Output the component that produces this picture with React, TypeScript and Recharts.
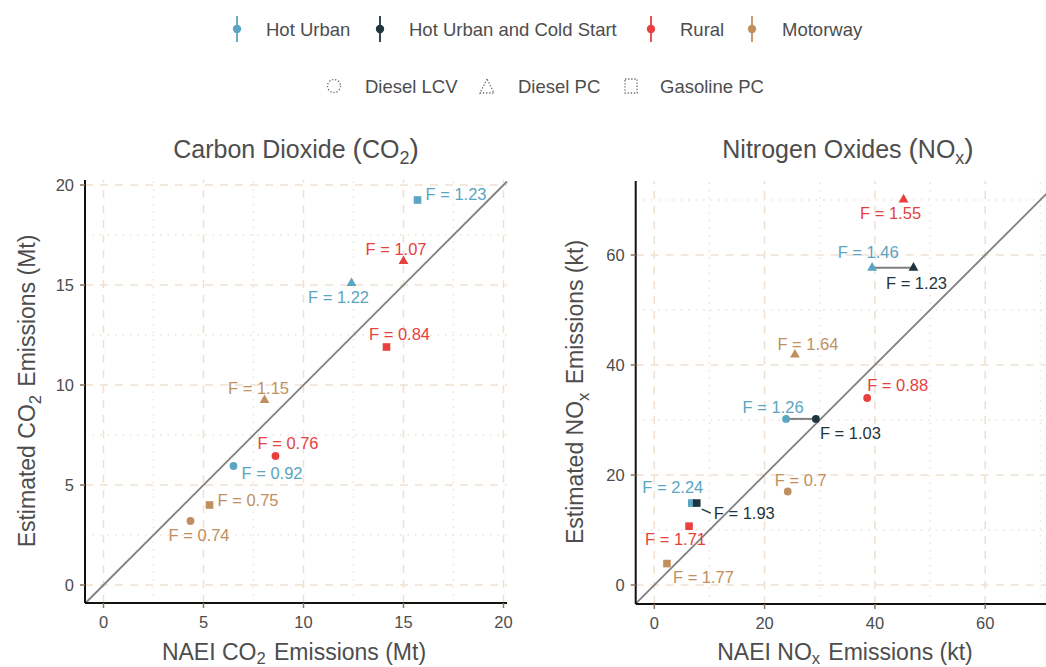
import React from 'react';
import { ScatterChart, Scatter, XAxis, YAxis, ReferenceLine } from 'recharts';

type Pt = { vehicle: string; naei: number; est: number; f: string };

const CONDITIONS = ['Hot Urban', 'Hot Urban and Cold Start', 'Rural', 'Motorway'];
const VEHICLES = ['Diesel LCV', 'Diesel PC', 'Gasoline PC'];

// ---- CO2 (Mt) ----
const CO2_HOT_URBAN: Pt[] = [
  { vehicle: 'Diesel LCV', naei: 6.5, est: 5.95, f: '0.92' },
  { vehicle: 'Diesel PC', naei: 12.4, est: 15.1, f: '1.22' },
  { vehicle: 'Gasoline PC', naei: 15.7, est: 19.25, f: '1.23' },
];
const CO2_RURAL: Pt[] = [
  { vehicle: 'Diesel LCV', naei: 8.6, est: 6.45, f: '0.76' },
  { vehicle: 'Diesel PC', naei: 15.0, est: 16.2, f: '1.07' },
  { vehicle: 'Gasoline PC', naei: 14.15, est: 11.9, f: '0.84' },
];
const CO2_MOTORWAY: Pt[] = [
  { vehicle: 'Diesel LCV', naei: 4.35, est: 3.2, f: '0.74' },
  { vehicle: 'Diesel PC', naei: 8.05, est: 9.25, f: '1.15' },
  { vehicle: 'Gasoline PC', naei: 5.3, est: 4.0, f: '0.75' },
];

// ---- NOx (kt) ----
const NOX_HOT_URBAN: Pt[] = [
  { vehicle: 'Diesel LCV', naei: 23.9, est: 30.2, f: '1.26' },
  { vehicle: 'Diesel PC', naei: 39.5, est: 57.7, f: '1.46' },
  { vehicle: 'Gasoline PC', naei: 6.8, est: 14.9, f: '2.24' },
];
const NOX_HOT_URBAN_COLD: Pt[] = [
  { vehicle: 'Diesel LCV', naei: 29.3, est: 30.2, f: '1.03' },
  { vehicle: 'Diesel PC', naei: 47.0, est: 57.7, f: '1.23' },
  { vehicle: 'Gasoline PC', naei: 7.7, est: 14.9, f: '1.93' },
];
const NOX_RURAL: Pt[] = [
  { vehicle: 'Diesel LCV', naei: 38.6, est: 34.0, f: '0.88' },
  { vehicle: 'Diesel PC', naei: 45.2, est: 70.1, f: '1.55' },
  { vehicle: 'Gasoline PC', naei: 6.3, est: 10.7, f: '1.71' },
];
const NOX_MOTORWAY: Pt[] = [
  { vehicle: 'Diesel LCV', naei: 24.2, est: 17.0, f: '0.7' },
  { vehicle: 'Diesel PC', naei: 25.5, est: 41.9, f: '1.64' },
  { vehicle: 'Gasoline PC', naei: 2.3, est: 3.9, f: '1.77' },
];

// ---- axes ----
const CO2_TICKS = [0, 5, 10, 15, 20];
const CO2_MINOR = [2.5, 7.5, 12.5, 17.5];
const NOX_TICKS = [0, 20, 40, 60];
const NOX_MINOR = [10, 30, 50, 70];

// ---- styling / layout ----
const COLORS: Record<string, string> = {
  'Hot Urban': '#5AA5C2',
  'Hot Urban and Cold Start': '#1E3540',
  Rural: '#E8403F',
  Motorway: '#C08F5E',
};
const TEXT = '#4D4D4D';
const GRID = '#EEE1D2';
const FONT = '"Liberation Sans", Arial, Helvetica, sans-serif';

type LabelPos = { dx: number; dy: number; anchor: 'start' | 'middle' | 'end'; leader?: boolean };

const CO2_LABELS: Record<string, LabelPos> = {
  'Hot Urban|Diesel LCV': { dx: 8, dy: 7, anchor: 'start' },
  'Hot Urban|Diesel PC': { dx: -13, dy: 14, anchor: 'middle' },
  'Hot Urban|Gasoline PC': { dx: 8, dy: -6, anchor: 'start' },
  'Rural|Diesel LCV': { dx: 12.5, dy: -13, anchor: 'middle' },
  'Rural|Diesel PC': { dx: -7.5, dy: -12, anchor: 'middle' },
  'Rural|Gasoline PC': { dx: 13, dy: -13, anchor: 'middle' },
  'Motorway|Diesel LCV': { dx: 8.5, dy: 14, anchor: 'middle' },
  'Motorway|Diesel PC': { dx: -6, dy: -12, anchor: 'middle' },
  'Motorway|Gasoline PC': { dx: 8, dy: -5, anchor: 'start' },
};

const NOX_LABELS: Record<string, LabelPos> = {
  'Hot Urban|Diesel LCV': { dx: -13, dy: -12, anchor: 'middle' },
  'Hot Urban|Diesel PC': { dx: -4, dy: -16, anchor: 'middle' },
  'Hot Urban|Gasoline PC': { dx: -19, dy: -16, anchor: 'middle' },
  'Hot Urban and Cold Start|Diesel LCV': { dx: 4, dy: 14, anchor: 'start' },
  'Hot Urban and Cold Start|Diesel PC': { dx: 3, dy: 15, anchor: 'middle' },
  'Hot Urban and Cold Start|Gasoline PC': { dx: 17, dy: 10, anchor: 'start', leader: true },
  'Rural|Diesel LCV': { dx: 0, dy: -13, anchor: 'start' },
  'Rural|Diesel PC': { dx: -13, dy: 14, anchor: 'middle' },
  'Rural|Gasoline PC': { dx: -13.5, dy: 13, anchor: 'middle' },
  'Motorway|Diesel LCV': { dx: 13, dy: -12, anchor: 'middle' },
  'Motorway|Diesel PC': { dx: 13, dy: -11, anchor: 'middle' },
  'Motorway|Gasoline PC': { dx: 6, dy: 13, anchor: 'start' },
};

function drawMarker(vehicle: string, cx: number, cy: number, color: string, key?: string) {
  if (vehicle === 'Diesel LCV') return <circle key={key} cx={cx} cy={cy} r={3.9} fill={color} />;
  if (vehicle === 'Diesel PC')
    return (
      <polygon
        key={key}
        points={`${cx},${cy - 5.6} ${cx - 4.9},${cy + 3} ${cx + 4.9},${cy + 3}`}
        fill={color}
      />
    );
  return <rect key={key} x={cx - 3.8} y={cy - 3.8} width={7.6} height={7.6} fill={color} />;
}

const markerShape = (condition: string) => (props: any) => {
  const { cx, cy, payload } = props;
  if (cx == null || cy == null) return <g />;
  return drawMarker(payload.vehicle, cx, cy, COLORS[condition]);
};

const labelShape = (condition: string, labels: Record<string, LabelPos>) => (props: any) => {
  const { cx, cy, payload } = props;
  if (cx == null || cy == null) return <g />;
  const pos = labels[`${condition}|${payload.vehicle}`] || { dx: 0, dy: -12, anchor: 'middle' };
  const color = COLORS[condition];
  return (
    <g>
      {pos.leader && (
        <line x1={cx + 5} y1={cy + 6} x2={cx + 14} y2={cy + 10} stroke={color} strokeWidth={1.5} />
      )}
      <text
        x={cx + pos.dx}
        y={cy + pos.dy}
        textAnchor={pos.anchor}
        dominantBaseline="central"
        fontSize={16.5}
        fill={color}
        fontFamily={FONT}
      >
        {`F = ${payload.f}`}
      </text>
    </g>
  );
};

function toXY(arr: Pt[]) {
  return arr.map((p) => ({ x: p.naei, y: p.est, vehicle: p.vehicle, f: p.f }));
}

type Series = { condition: string; data: Pt[] };

function Panel(props: {
  width: number;
  height: number;
  margin: { top: number; right: number; bottom: number; left: number };
  xDomain: [number, number];
  yDomain: [number, number];
  ticks: number[];
  minor: number[];
  series: Series[];
  labels: Record<string, LabelPos>;
  connectors?: [Pt[], Pt[]];
}) {
  const { width, height, margin, xDomain, yDomain, ticks, minor, series, labels, connectors } = props;
  const d0 = Math.max(xDomain[0], yDomain[0]);
  const d1 = Math.min(xDomain[1], yDomain[1]);
  return (
    <ScatterChart width={width} height={height} margin={margin}>
      <XAxis
        type="number"
        dataKey="x"
        domain={xDomain}
        ticks={ticks}
        interval={0}
        allowDataOverflow
        tickSize={5}
        tickMargin={8}
        height={30}
        axisLine={{ stroke: '#111', strokeWidth: 2 }}
        tickLine={{ stroke: '#8C7660', strokeWidth: 1.5 }}
        tick={{ fill: TEXT, fontSize: 16.5, fontFamily: FONT }}
      />
      <YAxis
        type="number"
        dataKey="y"
        domain={yDomain}
        ticks={ticks}
        interval={0}
        allowDataOverflow
        tickSize={5}
        tickMargin={6}
        width={40}
        axisLine={{ stroke: '#111', strokeWidth: 2 }}
        tickLine={{ stroke: '#8C7660', strokeWidth: 1.5 }}
        tick={{ fill: TEXT, fontSize: 16.5, fontFamily: FONT }}
      />
      {minor.map((v) => (
        <ReferenceLine key={`mx${v}`} x={v} stroke={GRID} strokeWidth={1.4} strokeDasharray="1.5 6" ifOverflow="discard" />
      ))}
      {minor.map((v) => (
        <ReferenceLine key={`my${v}`} y={v} stroke={GRID} strokeWidth={1.4} strokeDasharray="1.5 6" ifOverflow="discard" />
      ))}
      {ticks.map((v) => (
        <ReferenceLine key={`tx${v}`} x={v} stroke={GRID} strokeWidth={1.5} strokeDasharray="8 7" ifOverflow="discard" />
      ))}
      {ticks.map((v) => (
        <ReferenceLine key={`ty${v}`} y={v} stroke={GRID} strokeWidth={1.5} strokeDasharray="8 7" ifOverflow="discard" />
      ))}
      <ReferenceLine
        segment={[
          { x: d0, y: d0 },
          { x: d1, y: d1 },
        ]}
        stroke="#7F7F7F"
        strokeWidth={1.8}
        ifOverflow="visible"
      />
      {connectors &&
        VEHICLES.map((v) => {
          const a = connectors[0].find((p) => p.vehicle === v);
          const b = connectors[1].find((p) => p.vehicle === v);
          if (!a || !b) return null;
          return (
            <ReferenceLine
              key={`c${v}`}
              segment={[
                { x: a.naei, y: a.est },
                { x: b.naei, y: b.est },
              ]}
              stroke="#7F7F7F"
              strokeWidth={2}
              ifOverflow="visible"
            />
          );
        })}
      {series.map((s) => (
        <Scatter
          key={`m${s.condition}`}
          data={toXY(s.data)}
          shape={markerShape(s.condition)}
          isAnimationActive={false}
        />
      ))}
      {series.map((s) => (
        <Scatter
          key={`l${s.condition}`}
          data={toXY(s.data)}
          shape={labelShape(s.condition, labels)}
          isAnimationActive={false}
        />
      ))}
    </ScatterChart>
  );
}

function Sub(props: { base: string; sub: string; size: number; drop?: number }) {
  const { base, sub, size } = props;
  const drop = props.drop ?? size * 0.24;
  return (
    <>
      {base}
      <tspan dy={drop} fontSize={size * 0.72}>
        {sub}
      </tspan>
      <tspan dy={-drop}>{'\u200A'}</tspan>
    </>
  );
}

function Overlay() {
  const legendRow1 = [
    { label: 'Hot Urban', key: 237, text: 266 },
    { label: 'Hot Urban and Cold Start', key: 380, text: 409 },
    { label: 'Rural', key: 651, text: 680 },
    { label: 'Motorway', key: 752, text: 782 },
  ];
  const legendRow2 = [
    { label: 'Diesel LCV', key: 334, text: 365 },
    { label: 'Diesel PC', key: 487, text: 518 },
    { label: 'Gasoline PC', key: 631, text: 660 },
  ];
  const keyStroke = '#6B6B6B';
  const AX = 23;
  return (
    <svg
      width={1046}
      height={667}
      style={{ position: 'absolute', left: 0, top: 0, pointerEvents: 'none' }}
      fontFamily={FONT}
    >
      {/* legend row 1 */}
      {legendRow1.map((it, i) => (
        <g key={it.label}>
          <line x1={it.key} y1={16} x2={it.key} y2={42} stroke={COLORS[CONDITIONS[i]]} strokeWidth={1.8} />
          <circle cx={it.key} cy={29} r={4.2} fill={COLORS[CONDITIONS[i]]} />
          <text x={it.text} y={29} dominantBaseline="central" fontSize={18.5} fill={TEXT}>
            {it.label}
          </text>
        </g>
      ))}
      {/* legend row 2 */}
      {legendRow2.map((it, i) => (
        <g key={it.label}>
          {i === 0 && (
            <circle cx={it.key} cy={86} r={6.5} fill="none" stroke={keyStroke} strokeWidth={1.3} strokeDasharray="1.3 1.8" />
          )}
          {i === 1 && (
            <polygon
              points={`${it.key},${79} ${it.key - 7},${93} ${it.key + 7},${93}`}
              fill="none"
              stroke={keyStroke}
              strokeWidth={1.3}
              strokeDasharray="1.3 1.8"
            />
          )}
          {i === 2 && (
            <rect
              x={it.key - 6}
              y={79}
              width={12}
              height={14}
              fill="none"
              stroke={keyStroke}
              strokeWidth={1.3}
              strokeDasharray="1.3 1.8"
            />
          )}
          <text x={it.text} y={86} dominantBaseline="central" fontSize={18.5} fill={TEXT}>
            {VEHICLES[i]}
          </text>
        </g>
      ))}

      {/* panel titles */}
      <text x={296} y={158} textAnchor="middle" fontSize={25} fill={TEXT}>
        Carbon Dioxide <tspan fontSize={28}>(</tspan>
        CO
        <tspan dy={6} fontSize={18}>
          2
        </tspan>
        <tspan dy={-6} fontSize={28}>
          )
        </tspan>
      </text>
      <text x={848} y={158} textAnchor="middle" fontSize={25} fill={TEXT}>
        Nitrogen Oxides <tspan fontSize={28}>(</tspan>
        NO
        <tspan dy={6} fontSize={18}>
          x
        </tspan>
        <tspan dy={-6} fontSize={28}>
          )
        </tspan>
      </text>

      {/* x axis titles */}
      <text x={294} y={660} textAnchor="middle" fontSize={AX} fill={TEXT}>
        NAEI <Sub base="CO" sub="2" size={AX} drop={4} /> Emissions (Mt)
      </text>
      <text x={845} y={660} textAnchor="middle" fontSize={AX} fill={TEXT}>
        NAEI <Sub base="NO" sub="x" size={AX} drop={4} /> Emissions (kt)
      </text>

      {/* y axis titles */}
      <text transform="translate(35,391) rotate(-90)" textAnchor="middle" fontSize={AX} fill={TEXT}>
        Estimated <Sub base="CO" sub="2" size={AX} /> Emissions (Mt)
      </text>
      <text transform="translate(583,392) rotate(-90)" textAnchor="middle" fontSize={AX} fill={TEXT}>
        Estimated <Sub base="NO" sub="x" size={AX} /> Emissions (kt)
      </text>
    </svg>
  );
}

export default function App() {
  return (
    <div
      style={{
        position: 'absolute',
        left: 0,
        top: 0,
        width: 1046,
        height: 667,
        overflow: 'hidden',
        background: '#FFFFFF',
        fontFamily: FONT,
      }}
    >
      <div style={{ position: 'absolute', left: 0, top: 0 }}>
        <Panel
          width={520}
          height={667}
          margin={{ top: 180, right: 13, bottom: 34, left: 45 }}
          xDomain={[-0.925, 20.175]}
          yDomain={[-0.9, 20.25]}
          ticks={CO2_TICKS}
          minor={CO2_MINOR}
          series={[
            { condition: 'Hot Urban', data: CO2_HOT_URBAN },
            { condition: 'Rural', data: CO2_RURAL },
            { condition: 'Motorway', data: CO2_MOTORWAY },
          ]}
          labels={CO2_LABELS}
        />
      </div>
      <div style={{ position: 'absolute', left: 540, top: 0 }}>
        <Panel
          width={516}
          height={667}
          margin={{ top: 181, right: 0, bottom: 33, left: 55.7 }}
          xDomain={[-3.37, 72.84]}
          yDomain={[-3.45, 73.45]}
          ticks={NOX_TICKS}
          minor={NOX_MINOR}
          series={[
            { condition: 'Hot Urban', data: NOX_HOT_URBAN },
            { condition: 'Hot Urban and Cold Start', data: NOX_HOT_URBAN_COLD },
            { condition: 'Rural', data: NOX_RURAL },
            { condition: 'Motorway', data: NOX_MOTORWAY },
          ]}
          labels={NOX_LABELS}
          connectors={[NOX_HOT_URBAN, NOX_HOT_URBAN_COLD]}
        />
      </div>
      <Overlay />
    </div>
  );
}
